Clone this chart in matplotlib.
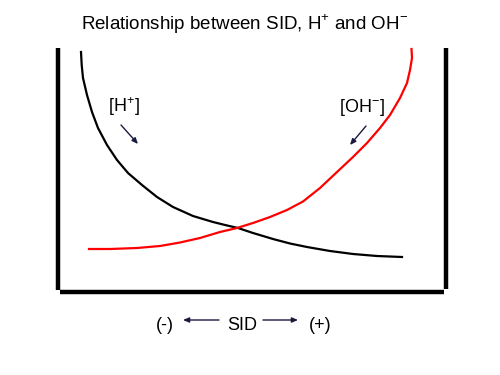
import matplotlib
matplotlib.use("Agg")
import matplotlib.pyplot as plt

plt.rcParams['font.family'] = ['Liberation Sans', 'DejaVu Sans']
plt.rcParams['mathtext.fontset'] = 'custom'
plt.rcParams['mathtext.rm'] = 'Liberation Sans'

# Curve samples (x, y in image pixel space, y downward)
h_x = [81, 81.7, 83, 87, 92, 98, 107, 117, 128, 142, 157, 173, 193, 213, 225,
       238, 253, 273, 290, 307, 330, 353, 377, 402]
h_y = [52, 65, 78, 95, 112, 128, 145, 160, 173, 185, 197, 207, 216, 222, 225,
       228, 233, 239, 243.5, 247, 251, 254, 256, 257]
oh_x = [89, 110, 137, 160, 180, 200, 220, 237, 253, 270, 287, 303, 320, 337,
        353, 367, 380, 390, 400, 407, 410, 412, 411.5]
oh_y = [249, 249, 248, 246, 242.5, 238, 232, 228, 223, 217, 210, 201.5, 188, 172,
        157, 143, 128, 115, 98, 83, 70, 58, 49]

title = r'Relationship between SID, H$^{\mathregular{+}}$ and OH$^{\mathregular{-}}$'
label_h = r'[H$^{\mathregular{+}}$]'
label_oh = r'[OH$^{\mathregular{-}}$]'

fig = plt.figure(figsize=(5, 3.75), dpi=100)
ax = fig.add_axes([0, 0, 1, 1])
ax.set_xlim(0, 500)
ax.set_ylim(375, 0)
ax.axis('off')

# Frame (U shape)
ax.plot([58, 58], [48, 290], color='black', lw=3.2, solid_capstyle='butt')
ax.plot([446, 446], [48, 289], color='black', lw=3.2, solid_capstyle='butt')
ax.plot([60, 444], [292, 292], color='black', lw=3.2, solid_capstyle='butt')

ax.plot(h_x, h_y, color='black', lw=1.6, solid_joinstyle='round')
ax.plot(oh_x, oh_y, color='red', lw=1.6, solid_joinstyle='round')

ax.text(245, 24, title, ha='center', va='center', fontsize=13.5)
ax.text(124, 107, label_h, ha='center', va='center', fontsize=13)
ax.text(362, 107, label_oh, ha='center', va='center', fontsize=13)

arrow_kw = dict(arrowstyle='-|>,head_length=0.35,head_width=0.15', color='#1a1a40',
                lw=1.0, shrinkA=0, shrinkB=0)
ax.annotate('', xy=(138, 144), xytext=(121, 125), arrowprops=arrow_kw)
ax.annotate('', xy=(350, 145), xytext=(366, 126), arrowprops=arrow_kw)

ax.text(165, 325, '(-)', ha='center', va='center', fontsize=13)
ax.text(242, 325, 'SID', ha='center', va='center', fontsize=13)
ax.text(320, 325, '(+)', ha='center', va='center', fontsize=13)
ax.annotate('', xy=(183, 320), xytext=(219, 320), arrowprops=arrow_kw)
ax.annotate('', xy=(298, 320), xytext=(263, 320), arrowprops=arrow_kw)

fig.savefig('out.png', dpi=100)
